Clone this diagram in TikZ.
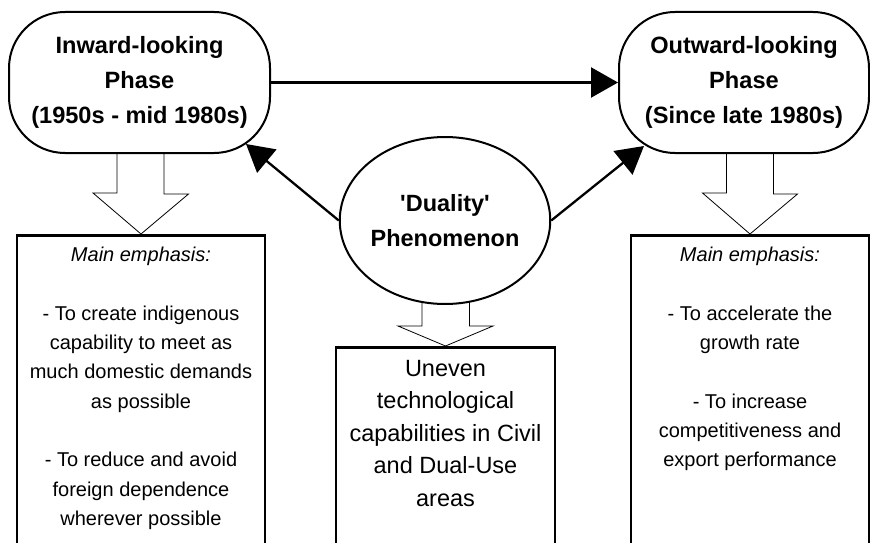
\documentclass[tikz,border=0pt]{standalone}
\usepackage{fontspec}
\setmainfont{Liberation Sans}
\usetikzlibrary{arrows.meta,calc,shapes.geometric}
\begin{document}
\begin{tikzpicture}[x=1pt,y=-1pt,
 phase/.style={draw,line width=2pt,rounded corners=56pt,minimum height=141pt,align=center,font=\bfseries\fontsize{23.6}{35}\selectfont,inner sep=0},
 duality/.style={draw,fill=white,ellipse,line width=2pt,minimum width=184pt,minimum height=167pt,align=center,font=\bfseries\fontsize{23.5}{35}\selectfont,inner sep=0},
 box/.style={draw,line width=2.6pt,anchor=north,inner sep=0,minimum height=340pt},
 bodytext/.style={align=center,anchor=north,inner sep=0,font=\fontsize{20}{29.3}\selectfont},
 centertext/.style={align=center,anchor=north,inner sep=0,font=\fontsize{23.5}{32.5}\selectfont},
 blockarrow/.style={draw,line width=0.8pt},
 conn/.style={line width=2.3pt,-{Triangle[length=27pt,width=30pt]}}]
\useasboundingbox (0,0) rectangle (870,543);
\clip (0,0) rectangle (870,543);
% phases
\node[phase,minimum width=261pt] (inw) at (139.5,82.5) {Inward-looking\\Phase\\(1950s - mid 1980s)};
\node[phase,minimum width=250pt] (outw) at (744,82.5) {Outward-looking\\Phase\\(Since late 1980s)};
% boxes
\node[box,minimum width=248pt] (lbox) at (141,234) {};
\node[box,minimum width=219pt] (cbox) at (445.5,346) {};
\node[box,minimum width=238pt] (rbox) at (750,234) {};
% block arrows
\draw[blockarrow] ($(lbox.north)+(-24,-81)$) -- ++(0,40) -- ++(-24,0) -- (lbox.north) -- ++(47.5,-40) -- ++(-24.5,0) -- ++(0,-40);
\draw[blockarrow] ($(rbox.north)+(-23.5,-81)$) -- ++(0,40) -- ++(-24,0) -- (rbox.north) -- ++(47.5,-40) -- ++(-24,0) -- ++(0,-40);
\draw[blockarrow] ($(cbox.north)+(-23.5,-50)$) -- ++(0,30) -- ++(-24,0) -- (cbox.north) -- ++(47.5,-20) -- ++(-23.5,0) -- ++(0,-30);
% duality
\node[duality] (dual) at (445,220.5) {\textquotesingle Duality\textquotesingle\\Phenomenon};
% texts
\node[bodytext] (ltext) at ($(lbox.north)+(0,13)$) {\textit{Main emphasis:}\\[29.3pt]
- To create indigenous\\capability to meet as\\much domestic demands\\as possible\\[29.3pt]
- To reduce and avoid\\foreign dependence\\wherever possible};
\node[bodytext] (rtext) at ($(rbox.north)+(0,13)$) {\textit{Main emphasis:}\\[29.3pt]
- To accelerate the\\growth rate\\[29.3pt]
- To increase\\competitiveness and\\export performance};
\node[centertext] (ctext) at ($(cbox.north)+(0,14)$) {Uneven\\technological\\capabilities in Civil\\and Dual-Use\\areas};
% connectors
\draw[conn] (inw.east) -- (outw.west);
\draw[conn] (dual.west) -- ($(inw.south east)+(-25,-10)$);
\draw[conn] (dual.east) -- ($(outw.south west)+(26,-8)$);
\end{tikzpicture}
\end{document}
